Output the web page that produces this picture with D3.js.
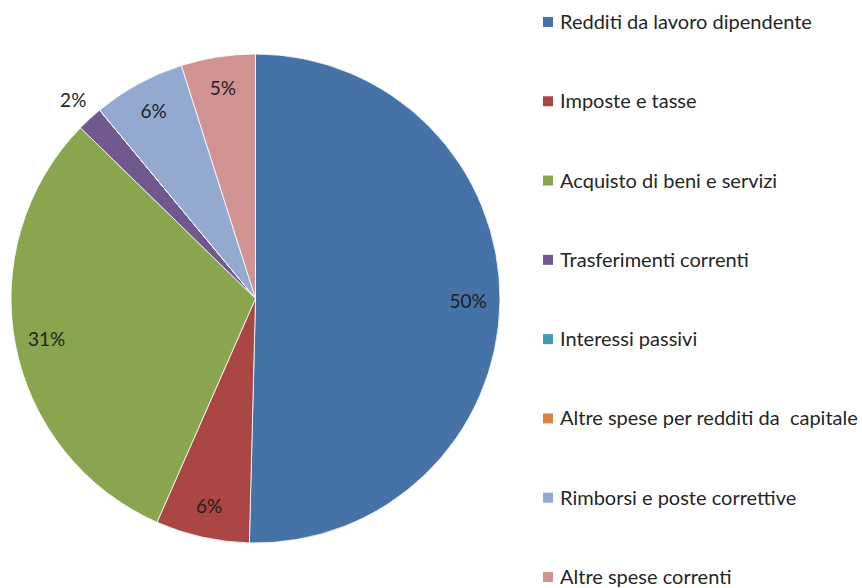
<!DOCTYPE html>
<html>
<head>
<meta charset="utf-8">
<script src="https://cdn.jsdelivr.net/npm/d3@7"></script>
<style>
  body { margin: 0; background: #fff; }
  text { font-family: Lato, "Open Sans", sans-serif; }
</style>
</head>
<body>
<div id="container"></div>
<script>
// categories and shares (percent)
const categories = [
  "Redditi da lavoro dipendente",
  "Imposte e tasse",
  "Acquisto di beni e servizi",
  "Trasferimenti correnti",
  "Interessi passivi",
  "Altre spese per redditi da  capitale",
  "Rimborsi e poste correttive",
  "Altre spese correnti"
];
const shares = [50.4, 6.2, 30.7, 1.7, 0, 0, 6.1, 4.9];
const colors = ["#4572A7", "#AA4643", "#89A54E", "#71588F", "#4198AF", "#DB843D", "#93A9CF", "#D19392"];

const width = 862;
const height = 588;
const cx = 255.5, cy = 298.5, r = 244.5;

const svg = d3.create("svg")
    .attr("width", width)
    .attr("height", height);

const data = categories.map((c, i) => ({ name: c, value: shares[i], color: colors[i] }));

const pie = d3.pie().value(d => d.value).sort(null);
const arcs = pie(data);

const arc = d3.arc().innerRadius(0).outerRadius(r);
const labelArcIn = d3.arc().innerRadius(r * 0.87).outerRadius(r * 0.87);
const labelArcOut = d3.arc().innerRadius(r * 1.1).outerRadius(r * 1.1);

const g = svg.append("g").attr("transform", `translate(${cx},${cy})`);

// slices
g.selectAll("path")
  .data(arcs)
  .join("path")
  .attr("d", arc)
  .attr("fill", d => d.data.color)
  .attr("stroke", "#fff")
  .attr("stroke-width", 0.8);

// percent labels (skip empty slices)
g.selectAll("text.pct")
  .data(arcs.filter(d => d.data.value > 0))
  .join("text")
  .attr("class", "pct")
  .attr("transform", d => {
    const p = d.data.value < 3 ? labelArcOut.centroid(d) : labelArcIn.centroid(d);
    return `translate(${p[0]},${p[1]})`;
  })
  .attr("text-anchor", "middle")
  .attr("dy", "0.35em")
  .attr("font-size", 19)
  .attr("fill", "#1f1f1f")
  .text(d => d3.format(".0f")(d.data.value) + "%");

// legend
const legend = svg.append("g");
const legendY = d3.scalePoint()
  .domain(categories)
  .range([22, 577]);

const item = legend.selectAll("g")
  .data(data)
  .join("g")
  .attr("transform", d => `translate(543,${legendY(d.name)})`);

item.append("rect")
  .attr("x", 0)
  .attr("y", -5)
  .attr("width", 10)
  .attr("height", 10)
  .attr("fill", d => d.color);

item.append("text")
  .attr("x", 17)
  .attr("dy", "0.35em")
  .attr("font-size", 20)
  .attr("fill", "#262626")
  .style("white-space", "pre")
  .text(d => d.name);

container.append(svg.node());
</script>
</body>
</html>
